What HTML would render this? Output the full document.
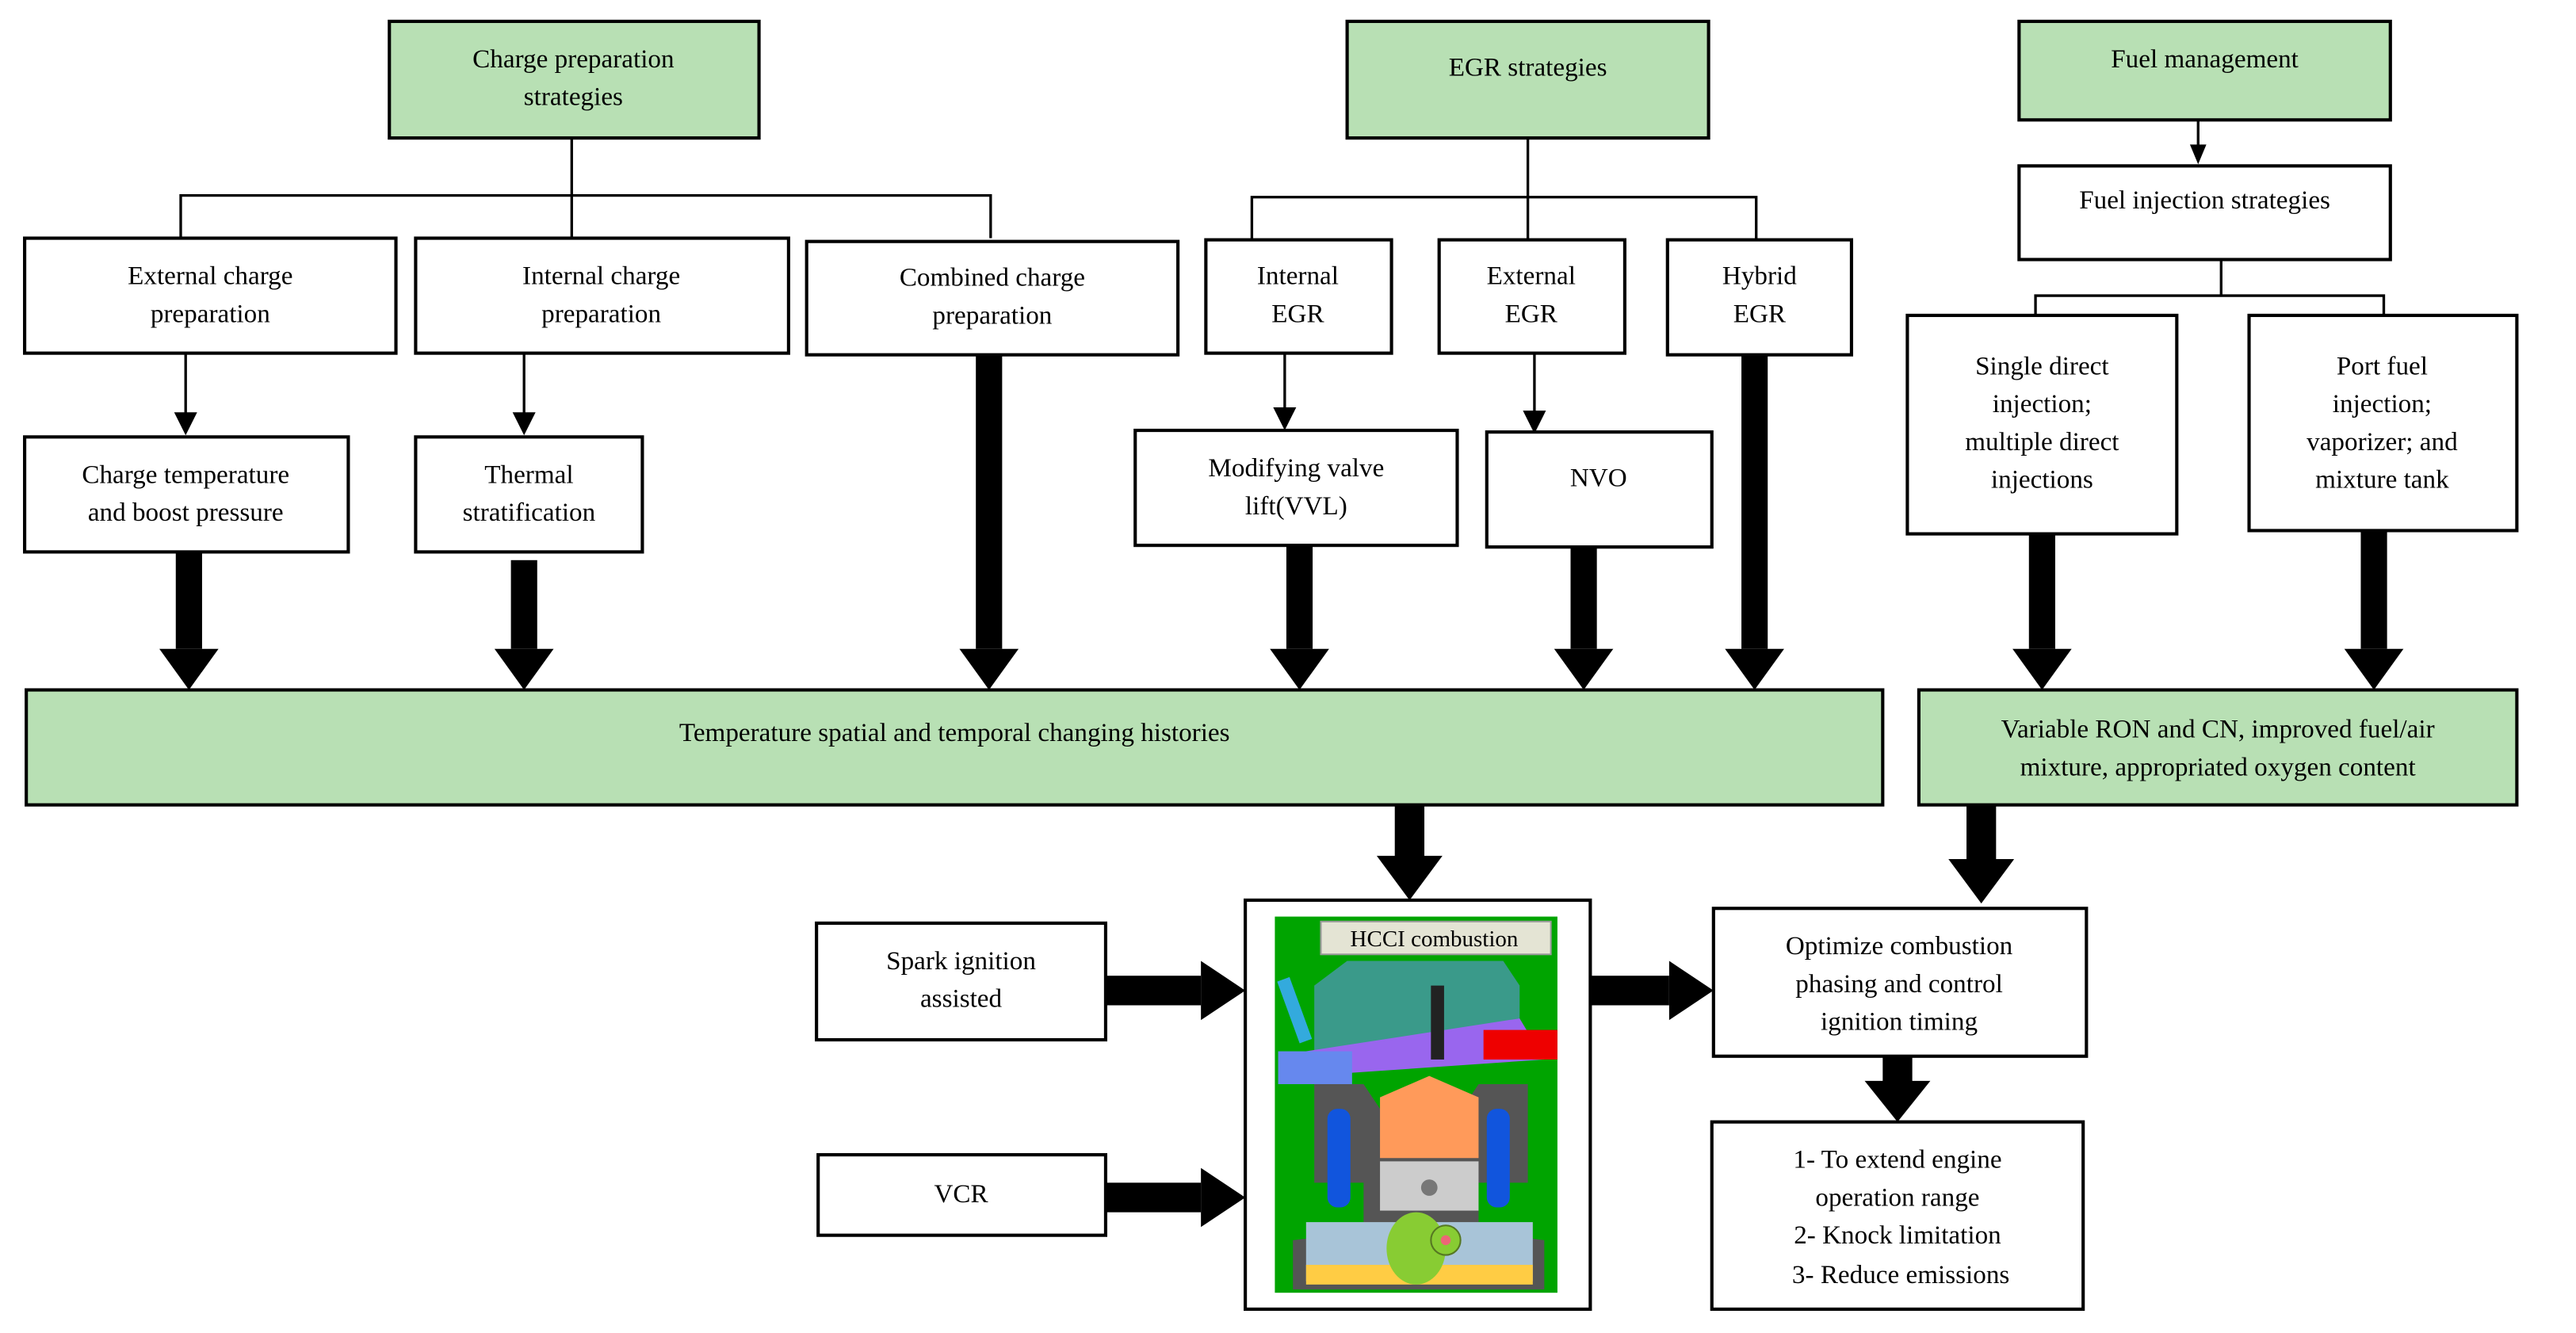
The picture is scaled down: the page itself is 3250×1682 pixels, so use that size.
<!DOCTYPE html>
<html><head><meta charset="utf-8"><style>
html,body{margin:0;padding:0;background:#fff;}
svg{display:block;}
text{font-family:"Liberation Serif",serif;font-size:16px;fill:#000;text-anchor:middle;}
.b{fill:#fff;stroke:#000;stroke-width:2;}
.g{fill:#b8e0b4;stroke:#000;stroke-width:2;}
.l{stroke:#000;stroke-width:1.6;fill:none;}
</style></head><body>
<svg width="3250" height="1682" viewBox="0 0 1568 811.5" xmlns="http://www.w3.org/2000/svg">
<!-- top boxes -->
<rect class="g" x="237" y="13" width="225" height="71"/>
<text x="349" y="41">Charge preparation</text><text x="349" y="64">strategies</text>
<rect class="g" x="820" y="13" width="220" height="71"/>
<text x="930" y="46">EGR strategies</text>
<rect class="g" x="1229" y="13" width="226" height="60"/>
<text x="1342" y="41">Fuel management</text>

<!-- connectors charge -->
<path class="l" d="M348 84V119M110 145V119H603V145M348 119V145"/>
<!-- egr -->
<path class="l" d="M930 84V120M762 146V120H1069V146M930 120V146"/>
<!-- fuel -->
<path class="l" d="M1338 73V90"/><polygon points="1333,88 1343,88 1338,100"/>
<rect class="b" x="1229" y="101" width="226" height="57"/>
<text x="1342" y="127">Fuel injection strategies</text>
<path class="l" d="M1352 158V180M1239 192V180H1451V192"/>

<!-- second row -->
<rect class="b" x="15" y="145" width="226" height="70"/>
<text x="128" y="173">External charge</text><text x="128" y="196">preparation</text>
<rect class="b" x="253" y="145" width="227" height="70"/>
<text x="366" y="173">Internal charge</text><text x="366" y="196">preparation</text>
<rect class="b" x="491" y="147" width="226" height="69"/>
<text x="604" y="174">Combined charge</text><text x="604" y="197">preparation</text>
<rect class="b" x="734" y="146" width="113" height="69"/>
<text x="790" y="173">Internal</text><text x="790" y="196">EGR</text>
<rect class="b" x="876" y="146" width="113" height="69"/>
<text x="932" y="173">External</text><text x="932" y="196">EGR</text>
<rect class="b" x="1015" y="146" width="112" height="70"/>
<text x="1071" y="173">Hybrid</text><text x="1071" y="196">EGR</text>
<rect class="b" x="1161" y="192" width="164" height="133"/>
<text x="1243" y="228">Single direct</text><text x="1243" y="251">injection;</text><text x="1243" y="274">multiple direct</text><text x="1243" y="297">injections</text>
<rect class="b" x="1369" y="192" width="163" height="131"/>
<text x="1450" y="228">Port fuel</text><text x="1450" y="251">injection;</text><text x="1450" y="274">vaporizer; and</text><text x="1450" y="297">mixture tank</text>

<!-- thin arrows -->
<path class="l" d="M113 215V253M319 215V253M782 215V250M934 215V252"/>
<polygon points="106,251 120,251 113,265"/><polygon points="312,251 326,251 319,265"/>
<polygon points="775,248 789,248 782,262"/><polygon points="927,250 941,250 934,264"/>

<!-- third row -->
<rect class="b" x="15" y="266" width="197" height="70"/>
<text x="113" y="294">Charge temperature</text><text x="113" y="317">and boost pressure</text>
<rect class="b" x="253" y="266" width="138" height="70"/>
<text x="322" y="294">Thermal</text><text x="322" y="317">stratification</text>
<rect class="b" x="691" y="262" width="196" height="70"/>
<text x="789" y="290">Modifying valve</text><text x="789" y="313">lift(VVL)</text>
<rect class="b" x="905" y="263" width="137" height="70"/>
<text x="973" y="296">NVO</text>

<!-- thick arrows down into bars -->
<g fill="#000">
<rect x="107" y="337" width="16" height="58"/><polygon points="97,395 133,395 115,420"/>
<rect x="311" y="341" width="16" height="54"/><polygon points="301,395 337,395 319,420"/>
<rect x="594" y="216" width="16" height="179"/><polygon points="584,395 620,395 602,420"/>
<rect x="783" y="332" width="16" height="63"/><polygon points="773,395 809,395 791,420"/>
<rect x="956" y="333" width="16" height="62"/><polygon points="946,395 982,395 964,420"/>
<rect x="1060" y="216" width="16" height="179"/><polygon points="1050,395 1086,395 1068,420"/>
<rect x="1235" y="325" width="16" height="70"/><polygon points="1225,395 1261,395 1243,420"/>
<rect x="1437" y="323" width="16" height="72"/><polygon points="1427,395 1463,395 1445,420"/>
</g>

<rect class="g" x="16" y="420" width="1130" height="70"/>
<text x="581" y="451">Temperature spatial and temporal changing histories</text>
<rect class="g" x="1168" y="420" width="364" height="70"/>
<text x="1350" y="449">Variable RON and CN, improved fuel/air</text><text x="1350" y="472">mixture, appropriated oxygen content</text>

<g fill="#000">
<rect x="849" y="490" width="18" height="32"/><polygon points="838,521 878,521 858,548"/>
<rect x="1197" y="490" width="18" height="34"/><polygon points="1186,523 1226,523 1206,550"/>
<rect x="1146" y="643" width="18" height="16"/><polygon points="1135,658 1175,658 1155,683"/>
<rect x="673" y="594" width="58" height="18"/><polygon points="731,585 731,621 758,603"/>
<rect x="673" y="720" width="58" height="18"/><polygon points="731,711 731,747 758,729"/>
<rect x="968" y="594" width="48" height="18"/><polygon points="1016,585 1016,621 1043,603"/>
</g>

<rect class="b" x="497" y="562" width="176" height="71"/>
<text x="585" y="590">Spark ignition</text><text x="585" y="613">assisted</text>
<rect class="b" x="498" y="703" width="175" height="49"/>
<text x="585" y="732">VCR</text>

<!-- engine -->
<rect class="b" x="758" y="548" width="210" height="249"/>
<rect x="776" y="558" width="172" height="229" fill="#00a400"/>
<rect x="804" y="561" width="140" height="20" fill="#e4e4d4" stroke="#999" stroke-width="1"/>
<text x="873" y="576" style="font-size:14px">HCCI combustion</text>
<polygon points="820,585 915,585 925,600 925,640 800,640 800,600" fill="#3a9a8a"/>
<polygon points="795,640 925,620 940,645 795,655" fill="#9966ee"/>
<rect x="778" y="640" width="45" height="20" fill="#6688ee"/>
<rect x="903" y="627" width="45" height="18" fill="#ee0000"/>
<rect x="784" y="595" width="8" height="40" fill="#33aadd" transform="rotate(-20 788 615)"/>
<rect x="871" y="600" width="8" height="45" fill="#222"/>
<polygon points="800,660 830,660 840,675 890,675 900,660 930,660 930,720 900,720 900,750 940,755 940,785 787,785 787,755 830,750 830,720 800,720" fill="#555"/>
<rect x="808" y="675" width="14" height="60" rx="6" fill="#1155dd"/>
<rect x="905" y="675" width="14" height="60" rx="6" fill="#1155dd"/>
<polygon points="840,668 870,655 900,668 900,705 840,705" fill="#ff9a5a"/>
<rect x="840" y="707" width="60" height="30" fill="#cccccc"/>
<circle cx="870" cy="723" r="5" fill="#777"/>
<rect x="795" y="744" width="138" height="36" fill="#a8c4d8"/>
<rect x="795" y="770" width="138" height="12" fill="#ffcc44"/>
<ellipse cx="862" cy="760" rx="18" ry="22" fill="#88cc33"/>
<circle cx="880" cy="755" r="9" fill="#88cc33" stroke="#557722"/>
<circle cx="880" cy="755" r="3" fill="#ee6677"/>

<rect class="b" x="1043" y="553" width="227" height="90"/>
<text x="1156" y="581">Optimize combustion</text><text x="1156" y="604">phasing and control</text><text x="1156" y="627">ignition timing</text>
<rect class="b" x="1042" y="683" width="226" height="114"/>
<text x="1155" y="711">1- To extend engine</text><text x="1155" y="734">operation range</text><text x="1155" y="757">2- Knock limitation</text><text x="1157" y="781">3- Reduce emissions</text>
</svg>
</body></html>
